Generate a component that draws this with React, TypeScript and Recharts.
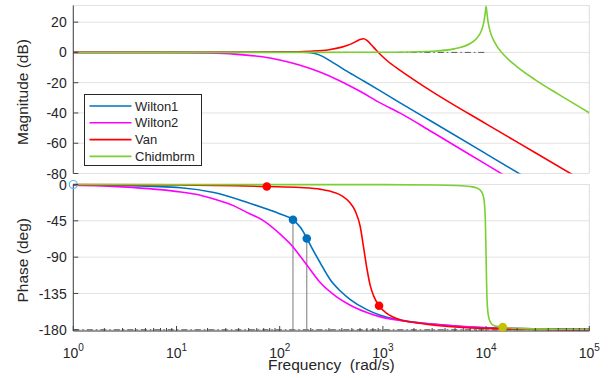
import React from 'react';
import { ComposedChart, Line, Scatter, XAxis, YAxis, CartesianGrid, Legend } from 'recharts';

const FONT = '"Liberation Sans", Arial, Helvetica, sans-serif';
const AXIS = '#444444';
const TEXT = '#262626';
const GRID_MAJOR = '#e2e2e2';
const GRID_MINOR = '#cdcdcd';
const REF_LINE = '#5a5a5a';

// Frequency axis (rad/s)
const decadeTicks = [1, 10, 100, 1000, 10000, 100000];
const decadeExponents = ['0', '1', '2', '3', '4', '5'];
const minorMultipliers = [2, 3, 4, 5, 6, 7, 8, 9];
const minorTicks = decadeTicks.slice(0, -1).flatMap((d) => minorMultipliers.map((m) => m * d));
const allFreqTicks = [...decadeTicks, ...minorTicks].sort((a, b) => a - b);

const magTicks = [-80, -60, -40, -20, 0, 20];
const phaseTicks = [-180, -135, -90, -45, 0];

const seriesNames = ['Wilton1', 'Wilton2', 'Van', 'Chidmbrm'];

// Wilton1
const wilton1MagFreq = [1, 10, 30, 60, 100, 150, 190, 224, 260, 309, 380, 447, 647, 944, 1470, 3000, 10000, 30000];
const wilton1Mag = [0, 0, 0.05, 0.1, 0.25, 0.3, 0, -0.9, -2.6, -5.6, -9.4, -12.4, -18.8, -25.4, -33.3, -45.8, -67.0, -86.4];
const wilton1PhaseFreq = [1, 3, 11, 23, 48, 75, 101, 134.5, 160, 184, 210, 247, 309, 387, 483, 700, 944, 1470, 3000, 10000, 100000];
const wilton1Phase = [-0.4, -1.2, -4, -10, -22, -30.5, -36.5, -43.7, -53.5, -66.9, -81, -97, -118, -132, -142.5, -155, -162, -168, -173, -177.5, -179.5];

// Wilton2
const wilton2MagFreq = [1, 10, 20, 36, 65, 100, 158, 245, 380, 600, 930, 1470, 3000, 10000, 20000];
const wilton2Mag = [0, -0.1, -0.4, -1.1, -2.7, -5.0, -8.5, -13.0, -18.7, -25.7, -33.2, -40.1, -52.6, -74.0, -86.3];
const wilton2PhaseFreq = [1, 3, 11, 17, 23, 36, 48, 70, 101, 136, 158, 184, 247, 359, 483, 700, 944, 1470, 3000, 10000, 100000];
const wilton2Phase = [-1, -3, -9.3, -13.3, -18, -26.5, -34.5, -45, -61.5, -78, -89, -100, -121.5, -139.5, -149.5, -158.5, -164, -168.5, -173, -177.5, -179.6];

// Van
const vanMagFreq = [1, 10, 100, 200, 300, 400, 450, 500, 550, 600, 650, 700, 780, 850, 930, 1100, 1470, 3000, 10000, 30000, 100000];
const vanMag = [0, 0, 0.2, 0.8, 1.8, 3.5, 4.6, 5.8, 7.3, 8.5, 9.0, 7.9, 4.7, 1.9, -0.9, -5.5, -11.8, -25.9, -47.2, -66.3, -87.3];
const vanPhaseFreq = [1, 10, 75, 158, 250, 331, 400, 480, 540, 603, 650, 702, 750, 813, 918, 1100, 1470, 2000, 3000, 5000, 10000, 100000];
const vanPhase = [-0.1, -0.5, -2.5, -3.8, -6, -9.5, -14, -22.7, -33, -52, -78, -105, -124, -138, -150.3, -160, -167.5, -171, -174, -176.5, -178.3, -179.8];

// Chidmbrm
const chidMagFreq = [1, 100, 1000, 3000, 5000, 7000, 8000, 9000, 9500, 9800, 9900, 10000, 10100, 10200, 10500, 11000, 12000, 15000, 20000, 30000, 50000, 100000];
const chidMag = [0, 0, 0.1, 0.8, 2.5, 5.9, 8.9, 14.3, 19.8, 25.9, 28.5, 30.5, 28.4, 25.7, 19.3, 13.4, 7.1, -1.9, -9.5, -18.1, -27.6, -39.9];
const chidPhaseFreq = [1, 1000, 3000, 5000, 7000, 8000, 9000, 9500, 9800, 10000, 10200, 10500, 11000, 12000, 14500, 20000, 50000, 100000];
const chidPhase = [0, -0.2, -0.6, -1.2, -2.5, -4.1, -8.6, -17.3, -38.4, -90, -141.1, -161.8, -170.5, -175, -176.7, -178.3, -179.3, -179.6];

// Reference levels (dash-dot)
const gainRefFreq = [1, 10000];
const gainRefLevel = [0, 0];
const phaseRefFreq = [1, 100000];
const phaseRefLevel = [-180, -180];

// Phase markers
const markerFreq = [1, 75, 134.5, 183, 918, 14500];
const markerPhase = [0, -2.5, -43.7, -66.9, -150.3, -176.7];
const markerOwner = ['start', 'Van', 'Wilton1', 'Wilton1', 'Van', 'Chidmbrm'];

const seriesColor: Record<string, string> = {
  Wilton1: '#0072BD',
  Wilton2: '#FF00FF',
  Van: '#FF0000',
  Chidmbrm: '#7AD032',
};
const markerFill: Record<string, string> = {
  Wilton1: '#0072BD',
  Van: '#FF0000',
  Chidmbrm: '#C2C200',
};
const START_MARKER = '#4DBEEE';

type Pt = { f: number; v: number };
const toPoints = (freq: number[], vals: number[]): Pt[] => freq.map((f, i) => ({ f, v: vals[i] }));

const magnitudeSeries = [
  { name: 'Wilton1', data: toPoints(wilton1MagFreq, wilton1Mag) },
  { name: 'Wilton2', data: toPoints(wilton2MagFreq, wilton2Mag) },
  { name: 'Van', data: toPoints(vanMagFreq, vanMag) },
  { name: 'Chidmbrm', data: toPoints(chidMagFreq, chidMag) },
];
const phaseSeries = [
  { name: 'Wilton1', data: toPoints(wilton1PhaseFreq, wilton1Phase) },
  { name: 'Wilton2', data: toPoints(wilton2PhaseFreq, wilton2Phase) },
  { name: 'Van', data: toPoints(vanPhaseFreq, vanPhase) },
  { name: 'Chidmbrm', data: toPoints(chidPhaseFreq, chidPhase) },
];
const markers = toPoints(markerFreq, markerPhase).map((p, i) => ({ ...p, owner: markerOwner[i] }));
const markerOwners = ['Wilton1', 'Van', 'Chidmbrm'];
const dropLines = markers
  .filter((m) => m.owner === 'Wilton1')
  .map((m) => [{ f: m.f, v: m.v }, { f: m.f, v: phaseRefLevel[0] }]);

// Frequency ticks: decades long, minor short, pointing into the plot
const FreqTick = (props: any) => {
  const { x, y, payload, inward, showLabel } = props;
  const idx = decadeTicks.indexOf(payload.value);
  const len = idx >= 0 ? 5 : 3;
  return (
    <g>
      <line x1={x} x2={x} y1={y} y2={y + inward * len} stroke={AXIS} strokeWidth={1} />
      {showLabel && idx >= 0 && (
        <text x={x} y={y + 26.8} textAnchor="middle" fontSize={14} fill={TEXT} fontFamily={FONT}>
          10
          <tspan dy={-7} fontSize={10}>
            {decadeExponents[idx]}
          </tspan>
        </text>
      )}
    </g>
  );
};

const ValueTick = (props: any) => {
  const { x, y, payload, side } = props;
  const dir = side === 'left' ? 1 : -1;
  return (
    <g>
      <line x1={x} x2={x + dir * 5} y1={y} y2={y} stroke={AXIS} strokeWidth={1} />
      {side === 'left' && (
        <text x={x - 6.6} y={y} dy="0.36em" textAnchor="end" fontSize={14} fill={TEXT} fontFamily={FONT}>
          {payload.value}
        </text>
      )}
    </g>
  );
};

const yLabel = (text: string) => (props: any) => {
  const vb = props.viewBox || {};
  const cx = (vb.x ?? 0) + 28;
  const cy = (vb.y ?? 0) + (vb.height ?? 0) / 2 + 2.5;
  return (
    <text transform={`translate(${cx},${cy}) rotate(-90)`} textAnchor="middle" fontSize={15.5} fill={TEXT} fontFamily={FONT}>
      {text}
    </text>
  );
};

const xLabel = (props: any) => {
  const vb = props.viewBox || {};
  return (
    <text
      x={(vb.x ?? 0) + (vb.width ?? 0) / 2}
      y={(vb.y ?? 0) + 39}
      textAnchor="middle"
      fontSize={15.5}
      fill={TEXT}
      fontFamily={FONT}
      style={{ whiteSpace: 'pre' }}
    >
      {'Frequency  (rad/s)'}
    </text>
  );
};

const LegendBox = (props: any) => {
  const payload: any[] = props.payload || [];
  const items = seriesNames.map((n) => {
    const p = payload.find((e) => e.value === n);
    return { name: n, color: p?.color || seriesColor[n] };
  });
  return (
    <svg width={118} height={72} style={{ display: 'block' }}>
      <rect x={0.5} y={0.5} width={117} height={71} fill="#ffffff" stroke="#262626" strokeWidth={1} />
      {items.map((it, i) => {
        const cy = 12 + i * 16.8;
        return (
          <g key={it.name}>
            <line x1={5.5} x2={47.5} y1={cy} y2={cy} stroke={it.color} strokeWidth={1.6} />
            <text x={51} y={cy} dy="0.36em" fontSize={13} fill={TEXT} fontFamily={FONT}>
              {it.name}
            </text>
          </g>
        );
      })}
    </svg>
  );
};

const freqAxis = {
  type: 'number' as const,
  scale: 'log' as const,
  domain: [1, 100000],
  interval: 0 as const,
  tickSize: 0,
  tickMargin: 0,
  tickLine: false,
  height: 0,
};

function FrequencyAxes() {
  return [
    <XAxis key="maj" xAxisId="maj" {...freqAxis} ticks={decadeTicks} tick={false} axisLine={false} allowDataOverflow />,
    <XAxis key="min" xAxisId="min" {...freqAxis} ticks={minorTicks} tick={false} axisLine={false} allowDataOverflow />,
    <XAxis
      key="t"
      xAxisId="t"
      orientation="top"
      {...freqAxis}
      ticks={allFreqTicks}
      axisLine={{ stroke: AXIS, strokeWidth: 1 }}
      tick={(p: any) => <FreqTick {...p} inward={1} showLabel={false} />}
      allowDataOverflow
    />,
  ];
}

const lineCommon = {
  xAxisId: 'b',
  yAxisId: 'l',
  dataKey: 'v',
  dot: false,
  activeDot: false,
  isAnimationActive: false,
};

const MagnitudeChart = () => (
  <ComposedChart width={611} height={378} margin={{ top: 5.5, right: 21.7, bottom: 204.5, left: 0 }}>
    <CartesianGrid xAxisId="min" yAxisId="l" horizontal={false} stroke={GRID_MINOR} strokeDasharray="1 2" />
    <CartesianGrid xAxisId="maj" yAxisId="l" stroke={GRID_MAJOR} />
    {FrequencyAxes()}
    <XAxis
      xAxisId="b"
      dataKey="f"
      {...freqAxis}
      ticks={allFreqTicks}
      axisLine={{ stroke: AXIS, strokeWidth: 1 }}
      tick={(p: any) => <FreqTick {...p} inward={-1} showLabel={false} />}
      allowDataOverflow
    />
    <YAxis
      yAxisId="l"
      type="number"
      domain={[-80, 31]}
      ticks={magTicks}
      interval={0}
      width={73.3}
      tickSize={0}
      tickMargin={0}
      tickLine={false}
      axisLine={{ stroke: AXIS, strokeWidth: 1 }}
      tick={(p: any) => <ValueTick {...p} side="left" />}
      label={yLabel('Magnitude (dB)')}
      allowDataOverflow
    />
    <YAxis
      yAxisId="r"
      orientation="right"
      type="number"
      domain={[-80, 31]}
      ticks={magTicks}
      interval={0}
      width={0}
      tickSize={0}
      tickMargin={0}
      tickLine={false}
      axisLine={{ stroke: AXIS, strokeWidth: 1 }}
      tick={(p: any) => <ValueTick {...p} side="right" />}
      allowDataOverflow
    />
    <Line
      {...lineCommon}
      data={toPoints(gainRefFreq, gainRefLevel)}
      type="linear"
      stroke={REF_LINE}
      strokeWidth={1}
      strokeDasharray="6 3 1.5 3"
      legendType="none"
    />
    {magnitudeSeries.map((s) => (
      <Line
        key={s.name}
        {...lineCommon}
        name={s.name}
        data={s.data}
        type="monotone"
        stroke={seriesColor[s.name]}
        strokeWidth={1.6}
      />
    ))}
    <Legend
      layout="vertical"
      align="center"
      verticalAlign="middle"
      wrapperStyle={{ left: 84, top: 94, width: 118, height: 72 }}
      content={(p: any) => <LegendBox payload={p.payload} />}
    />
  </ComposedChart>
);

const PhaseChart = () => (
  <ComposedChart width={611} height={378} margin={{ top: 184.5, right: 21.7, bottom: 0, left: 0 }}>
    <CartesianGrid xAxisId="min" yAxisId="l" horizontal={false} stroke={GRID_MINOR} strokeDasharray="1 2" />
    <CartesianGrid xAxisId="maj" yAxisId="l" stroke={GRID_MAJOR} />
    {FrequencyAxes()}
    <XAxis
      xAxisId="b"
      dataKey="f"
      {...freqAxis}
      height={47}
      ticks={allFreqTicks}
      axisLine={{ stroke: AXIS, strokeWidth: 1 }}
      tick={(p: any) => <FreqTick {...p} inward={-1} showLabel />}
      label={xLabel}
    />
    <YAxis
      yAxisId="l"
      type="number"
      domain={[-181.5, 0]}
      ticks={phaseTicks}
      interval={0}
      width={73.3}
      tickSize={0}
      tickMargin={0}
      tickLine={false}
      axisLine={{ stroke: AXIS, strokeWidth: 1 }}
      tick={(p: any) => <ValueTick {...p} side="left" />}
      label={yLabel('Phase (deg)')}
    />
    <YAxis
      yAxisId="r"
      orientation="right"
      type="number"
      domain={[-181.5, 0]}
      ticks={phaseTicks}
      interval={0}
      width={0}
      tickSize={0}
      tickMargin={0}
      tickLine={false}
      axisLine={{ stroke: AXIS, strokeWidth: 1 }}
      tick={(p: any) => <ValueTick {...p} side="right" />}
      allowDataOverflow
    />
    <Line
      {...lineCommon}
      data={toPoints(phaseRefFreq, phaseRefLevel)}
      type="linear"
      stroke={REF_LINE}
      strokeWidth={1}
      strokeDasharray="6 3 1.5 3"
      legendType="none"
    />
    {dropLines.map((d, i) => (
      <Line key={`drop-${i}`} {...lineCommon} data={d} type="linear" stroke="#7a7a7a" strokeWidth={1} legendType="none" />
    ))}
    {phaseSeries.map((s) => (
      <Line
        key={s.name}
        {...lineCommon}
        name={s.name}
        data={s.data}
        type="monotone"
        stroke={seriesColor[s.name]}
        strokeWidth={1.6}
      />
    ))}
    <Scatter
      xAxisId="b"
      yAxisId="l"
      dataKey="v"
      data={markers.filter((m) => m.owner === 'start')}
      isAnimationActive={false}
      legendType="none"
      shape={(p: any) => <circle cx={p.cx} cy={p.cy} r={4} fill="none" stroke={START_MARKER} strokeWidth={1.2} />}
    />
    {markerOwners.map((owner) => (
      <Scatter
        key={owner}
        xAxisId="b"
        yAxisId="l"
        dataKey="v"
        data={markers.filter((m) => m.owner === owner)}
        isAnimationActive={false}
        legendType="none"
        shape={(p: any) => <circle cx={p.cx} cy={p.cy} r={4.3} fill={markerFill[owner]} />}
      />
    ))}
  </ComposedChart>
);

export default function App() {
  return (
    <div style={{ position: 'absolute', left: 0, top: 0, width: 611, height: 378, background: '#ffffff' }}>
      <div style={{ position: 'absolute', left: 0, top: 0 }}>
        <MagnitudeChart />
      </div>
      <div style={{ position: 'absolute', left: 0, top: 0 }}>
        <PhaseChart />
      </div>
    </div>
  );
}
